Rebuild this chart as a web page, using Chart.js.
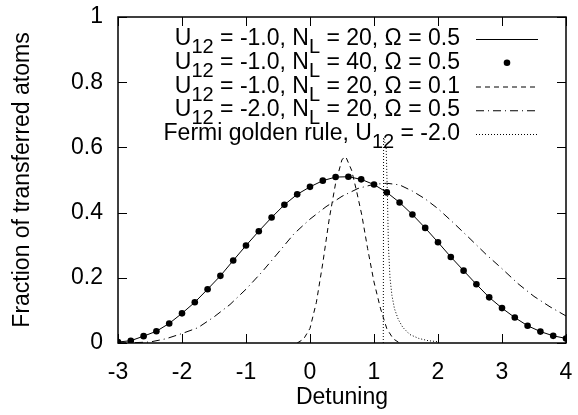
<!DOCTYPE html>
<html>
<head>
<meta charset="utf-8">
<script src="https://cdn.jsdelivr.net/npm/chart.js@4.4.1/dist/chart.umd.min.js"></script>
<style>
  html, body { margin: 0; padding: 0; background: #fff; }
  canvas { display: block; }
</style>
</head>
<body>
<canvas id="fraction" width="578" height="415"></canvas>
<script>
// values
const detuning = [-3.0, -2.8, -2.6, -2.4, -2.2, -2.0, -1.8, -1.6, -1.4, -1.2, -1.0, -0.8,
    -0.6, -0.4, -0.2, 0.0, 0.2, 0.4, 0.6, 0.8, 1.0, 1.2, 1.4, 1.6, 1.8, 2.0, 2.2, 2.4,
    2.6, 2.8, 3.0, 3.2, 3.4, 3.6, 3.8, 4.0];
const fracN20 = [0.003, 0.007, 0.021, 0.036, 0.060, 0.091, 0.125, 0.165, 0.206, 0.253, 0.299, 0.343,
    0.385, 0.424, 0.456, 0.479, 0.498, 0.509, 0.510, 0.502, 0.486, 0.462, 0.431, 0.394, 0.353, 0.309, 0.264, 0.222,
    0.180, 0.140, 0.107, 0.078, 0.053, 0.035, 0.022, 0.014];
const fracN40 = [0.003, 0.007, 0.021, 0.036, 0.060, 0.091, 0.125, 0.165, 0.206, 0.253, 0.299, 0.343,
    0.385, 0.424, 0.456, 0.479, 0.498, 0.509, 0.510, 0.502, 0.486, 0.462, 0.431, 0.394, 0.353, 0.309, 0.264, 0.222,
    0.180, 0.140, 0.107, 0.078, 0.053, 0.035, 0.022, 0.014];

const detuningOmega01 = [-0.2, -0.1, 0.0, 0.1, 0.2, 0.3, 0.4, 0.5, 0.56, 0.65, 0.73, 0.81, 0.9, 1.0, 1.1, 1.2, 1.3, 1.4];
const fracOmega01 = [0.0, 0.012, 0.045, 0.125, 0.245, 0.38, 0.49, 0.563, 0.571, 0.53, 0.464, 0.392, 0.29, 0.187, 0.107, 0.044, 0.013, 0.0];

const detuningU2 = [-3.0, -2.75, -2.5, -2.25, -2.0, -1.75, -1.5, -1.25, -1.0, -0.75, -0.5, -0.25, 0.0, 0.25, 0.5,
    0.75, 1.0, 1.2, 1.4, 1.6, 1.8, 2.0, 2.25, 2.5, 2.75, 3.0, 3.25, 3.5, 3.75, 4.0];
const fracU2 = [0.0, 0.001, 0.003, 0.013, 0.029, 0.047, 0.08, 0.118, 0.165, 0.218, 0.276, 0.335, 0.38, 0.418, 0.45,
    0.474, 0.487, 0.49, 0.485, 0.466, 0.442, 0.412, 0.367, 0.32, 0.272, 0.228, 0.182, 0.143, 0.111, 0.083];

const detuningFgr = [1.145, 1.15, 1.19, 1.21, 1.225, 1.25, 1.28, 1.32, 1.38, 1.45, 1.56, 1.7, 1.85, 2.0];
const fracFgr = [0.0, 0.63, 0.6, 0.45, 0.3, 0.2, 0.146, 0.105, 0.072, 0.048, 0.026, 0.014, 0.007, 0.004];

const seriesLabels = [
    "U_{12} = -1.0, N_{L} = 20, Ω = 0.5",
    "U_{12} = -1.0, N_{L} = 40, Ω = 0.5",
    "U_{12} = -1.0, N_{L} = 20, Ω = 0.1",
    "U_{12} = -2.0, N_{L} = 20, Ω = 0.5",
    "Fermi golden rule, U_{12} = -2.0",
];

const FONT = "'Liberation Sans', Arial, Helvetica, sans-serif";

function zip(xs, ys) {
    return xs.map((x, i) => ({ x: x, y: ys[i] }));
}

// gnuplot style frame with inward ticks on all four sides
const framePlugin = {
    id: "frame",
    afterDatasetsDraw(chart) {
        const { ctx, chartArea: a, scales } = chart;
        const len = 9;
        ctx.save();
        ctx.strokeStyle = "#000";
        ctx.lineWidth = 1;
        ctx.beginPath();
        scales.x.ticks.forEach((t) => {
            const px = Math.round(scales.x.getPixelForValue(t.value)) + 0.5;
            ctx.moveTo(px, a.bottom);
            ctx.lineTo(px, a.bottom - len);
            ctx.moveTo(px, a.top);
            ctx.lineTo(px, a.top + len);
        });
        scales.y.ticks.forEach((t) => {
            const py = Math.round(scales.y.getPixelForValue(t.value)) + 0.5;
            ctx.moveTo(a.left, py);
            ctx.lineTo(a.left + len, py);
            ctx.moveTo(a.right, py);
            ctx.lineTo(a.right - len, py);
        });
        ctx.stroke();
        ctx.lineWidth = 1.5;
        ctx.strokeRect(a.left, a.top, a.right - a.left, a.bottom - a.top);
        ctx.restore();
    },
};

// key with subscripts, text right-justified, sample to the right
function parseEnhanced(str) {
    const parts = [];
    const re = /_\{([^}]*)\}/g;
    let last = 0, m;
    while ((m = re.exec(str)) !== null) {
        if (m.index > last) parts.push({ text: str.slice(last, m.index), sub: false });
        parts.push({ text: m[1], sub: true });
        last = re.lastIndex;
    }
    if (last < str.length) parts.push({ text: str.slice(last), sub: false });
    return parts;
}

const keyPlugin = {
    id: "key",
    afterDatasetsDraw(chart) {
        const { ctx } = chart;
        const textRight = 460, sampleL = 476, sampleR = 538;
        const top = 39, step = 23.75;
        ctx.save();
        ctx.fillStyle = "#000";
        ctx.textBaseline = "alphabetic";
        ctx.textAlign = "left";
        chart.data.datasets.forEach((ds, i) => {
            const y = top + i * step;
            const parts = parseEnhanced(seriesLabels[i]);
            let w = 0;
            parts.forEach((p) => {
                ctx.font = (p.sub ? "20px " : "23px ") + FONT;
                p.w = ctx.measureText(p.text).width;
                w += p.w;
            });
            let x = textRight - w;
            parts.forEach((p) => {
                ctx.font = (p.sub ? "20px " : "23px ") + FONT;
                ctx.fillText(p.text, x, y + 6 + (p.sub ? 8 : 0));
                x += p.w;
            });
            if (ds.pointRadius > 0) {
                ctx.beginPath();
                ctx.arc((sampleL + sampleR) / 2, y, ds.pointRadius, 0, Math.PI * 2);
                ctx.fill();
            } else {
                ctx.strokeStyle = ds.borderColor;
                ctx.lineWidth = ds.borderWidth;
                ctx.setLineDash(ds.borderDash || []);
                ctx.beginPath();
                ctx.moveTo(sampleL, y + 0.5);
                ctx.lineTo(sampleR, y + 0.5);
                ctx.stroke();
                ctx.setLineDash([]);
            }
        });
        ctx.restore();
    },
};

const lineStyle = {
    showLine: true,
    borderColor: "#000",
    borderWidth: 1,
    pointRadius: 0,
    pointHoverRadius: 0,
    fill: false,
    tension: 0,
};

new Chart(document.getElementById("fraction"), {
    type: "scatter",
    data: {
        datasets: [
            Object.assign({}, lineStyle, { label: seriesLabels[0], data: zip(detuning, fracN20) }),
            {
                label: seriesLabels[1],
                data: zip(detuning, fracN40),
                showLine: false,
                pointRadius: 3.3,
                pointBackgroundColor: "#000",
                pointBorderColor: "#000",
                pointBorderWidth: 0,
            },
            Object.assign({}, lineStyle, { label: seriesLabels[2], data: zip(detuningOmega01, fracOmega01), borderDash: [5, 4] }),
            Object.assign({}, lineStyle, { label: seriesLabels[3], data: zip(detuningU2, fracU2), borderDash: [8, 4, 1, 4] }),
            Object.assign({}, lineStyle, { label: seriesLabels[4], data: zip(detuningFgr, fracFgr), borderDash: [1, 2] }),
        ],
    },
    options: {
        responsive: false,
        animation: false,
        devicePixelRatio: 1,
        layout: { padding: { left: 0, top: 17, right: 12, bottom: 0 } },
        plugins: {
            legend: { display: false },
            tooltip: { enabled: false },
        },
        scales: {
            x: {
                type: "linear",
                min: -3,
                max: 4,
                ticks: { stepSize: 1, color: "#000", font: { family: FONT, size: 23 }, padding: 16, maxRotation: 0 },
                grid: { display: false, drawTicks: false },
                border: { display: false },
                title: { display: true, text: "Detuning", color: "#000", font: { family: FONT, size: 23 }, padding: { top: 0, bottom: 4 } },
                afterFit: (scale) => {
                    scale.height = 72;
                    scale.paddingLeft = 0;
                    scale.paddingRight = 12;
                },
            },
            y: {
                min: 0,
                max: 1,
                ticks: {
                    stepSize: 0.2, color: "#000", font: { family: FONT, size: 23 }, padding: 15,
                    callback: (v) => String(+v.toFixed(1)),
                },
                grid: { display: false, drawTicks: false },
                border: { display: false },
                title: { display: true, text: "Fraction of transferred atoms", color: "#000", font: { family: FONT, size: 23 }, padding: { top: 9, bottom: 0 } },
                afterFit: (scale) => {
                    scale.width = 118;
                    scale.paddingTop = 17;
                    scale.paddingBottom = 0;
                },
            },
        },
    },
    plugins: [framePlugin, keyPlugin],
});
</script>
</body>
</html>
